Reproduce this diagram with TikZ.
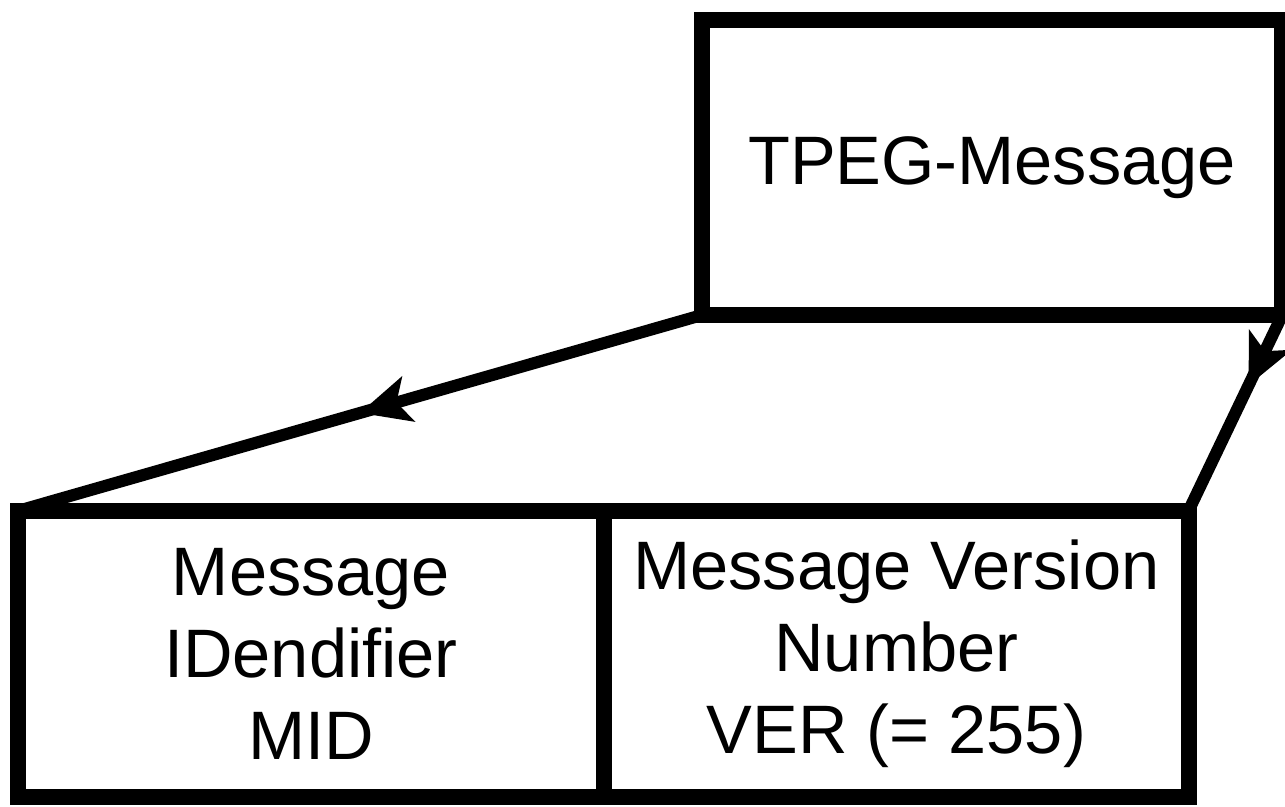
\documentclass[tikz,border=0pt]{standalone}
\usepackage{fontspec}
\setmainfont{Liberation Sans}
\usetikzlibrary{arrows.meta,positioning,decorations.markings}

\begin{document}
\begin{tikzpicture}[x=0.01cm, y=-0.01cm,
    font=\fontsize{19.5}{23.3}\selectfont,
    blockbox/.style={draw, line width=0.16cm, rectangle, inner sep=0pt, outer sep=0pt, align=center},
    link/.style={line width=0.12cm},
    midarrow/.style={postaction={decorate}, decoration={markings,
      mark=at position #1 with {\arrow{Stealth[length=5mm, width=4.6mm, inset=1.2mm]}}}}]
  \useasboundingbox (0,0) rectangle (1285,807);
  % top block
  \node[blockbox, minimum width=5.8cm, minimum height=2.95cm] (msg) at (992,167.5) {TPEG-Message};
  % the two fields below
  \node[blockbox, minimum width=5.86cm, minimum height=2.86cm] (mid) at (311,654) {Message\\IDendifier\\MID};
  \node[blockbox, minimum width=5.84cm, minimum height=2.86cm, right=0pt of mid] (ver) {Message Version\\Number\\VER (= 255)};
  \draw[link, midarrow=0.5] (msg.south west) -- (mid.north west);
  \draw[link, midarrow=0.36] (msg.south east) -- (ver.north east);
\end{tikzpicture}
\end{document}
